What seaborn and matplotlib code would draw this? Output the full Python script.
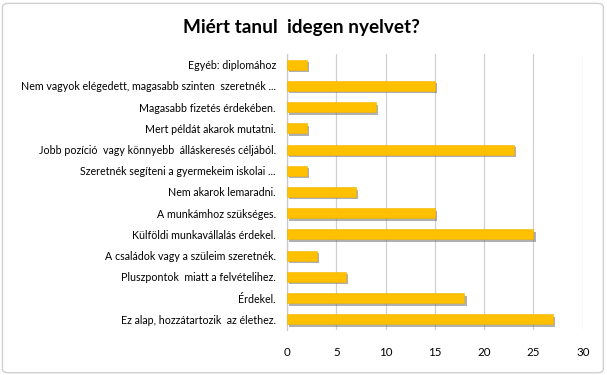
import matplotlib
matplotlib.use("Agg")
import matplotlib.pyplot as plt
import matplotlib.patheffects as pe
from matplotlib.patches import FancyBboxPatch
import seaborn as sns
import pandas as pd

categories = [
    "Egyéb: diplomához",
    "Nem vagyok elégedett, magasabb szinten  szeretnék ...",
    "Magasabb fizetés érdekében.",
    "Mert példát akarok mutatni.",
    "Jobb pozíció  vagy könnyebb  álláskeresés céljából.",
    "Szeretnék segíteni a gyermekeim iskolai ...",
    "Nem akarok lemaradni.",
    "A munkámhoz szükséges.",
    "Külföldi munkavállalás érdekel.",
    "A családok vagy a szüleim szeretnék.",
    "Pluszpontok  miatt a felvételihez.",
    "Érdekel.",
    "Ez alap, hozzátartozik  az élethez.",
]
values = [2, 15, 9, 2, 23, 2, 7, 15, 25, 3, 6, 18, 27]
x_ticks = [0, 5, 10, 15, 20, 25, 30]
title = "Miért tanul  idegen nyelvet?"

df = pd.DataFrame({"reason": categories, "count": values})

sns.set_theme(style="white")
plt.rcParams["font.family"] = ["Lato", "DejaVu Sans"]

fig = plt.figure(figsize=(6.07, 3.75), dpi=100)
ax = fig.add_axes([0.473, 0.12, 0.487, 0.736])

sns.barplot(data=df, y="reason", x="count", orient="h", color="#FFC000",
            width=0.47, ax=ax, saturation=1, edgecolor="#F0B400", linewidth=0.4)
for p in ax.patches:
    p.set_path_effects([pe.SimplePatchShadow(offset=(1.5, -1.8), shadow_rgbFace="#6f6f6f", alpha=0.55), pe.Normal()])
    p.set_zorder(3)

ax.set_xlim(0, 30)
ax.set_xticks(x_ticks)
ax.set_xticklabels([str(t) for t in x_ticks], fontsize=8.3, color="#000000")
ax.tick_params(axis="x", length=0, pad=12)
ax.tick_params(axis="y", length=0, pad=8, labelsize=7.7, labelcolor="#000000")
ax.set_xlabel("")
ax.set_ylabel("")
ax.grid(axis="x", color="#d0d0d0", linewidth=0.9, zorder=0)
ax.set_axisbelow(True)
for s in ["top", "right", "bottom"]:
    ax.spines[s].set_visible(False)
ax.spines["left"].set_color("#c8c8c8")
ax.spines["left"].set_linewidth(0.9)

fig.text(0.496, 0.928, title, ha="center", va="center", fontsize=13.7, fontweight="bold", color="#000000")

border = FancyBboxPatch((0.004, 0.006), 0.99, 0.985, boxstyle="round,pad=0,rounding_size=0.01",
                        transform=fig.transFigure, fill=False, edgecolor="#d0d0d0", linewidth=1.0)
fig.patches.append(border)

fig.savefig("out.png", dpi=100)
